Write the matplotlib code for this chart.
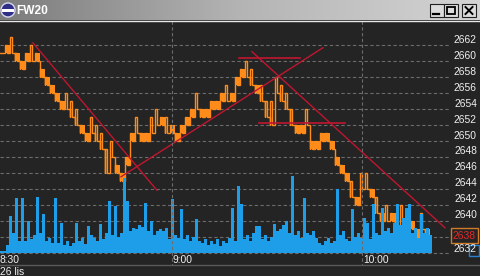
import numpy as np
import matplotlib
matplotlib.use("Agg")
import matplotlib.pyplot as plt
from matplotlib.patches import Rectangle, Circle
from matplotlib.lines import Line2D
from matplotlib.transforms import blended_transform_factory
from matplotlib.colors import LinearSegmentedColormap

plt.rcParams['font.family'] = ['Liberation Sans', 'DejaVu Sans']

# ---------------- data ----------------
title = "FW20"
date_label = "26 lis"
# price range per 5-tick segment
price_lo = [2661, 2661, 2661, 2660, 2659, 2660, 2660, 2660, 2658, 2657,
            2656, 2655, 2654, 2654, 2653, 2652, 2651, 2650, 2651, 2650,
            2649, 2646, 2648, 2646, 2645, 2647, 2650, 2651, 2650, 2650,
            2651, 2652, 2652, 2651, 2651, 2650, 2651, 2652, 2653, 2654,
            2653, 2653, 2654, 2654, 2655, 2655, 2655, 2657, 2658, 2658,
            2657, 2656, 2655, 2653, 2652, 2656, 2655, 2654, 2652, 2651,
            2651, 2652, 2649, 2649, 2650, 2650, 2649, 2647, 2646, 2645,
            2643, 2642, 2644, 2644, 2643, 2641, 2640, 2640, 2640, 2639,
            2640, 2639, 2639, 2638, 2639, 2638]
price_hi = [2661, 2662, 2663, 2661, 2660, 2661, 2662, 2661, 2659, 2658,
            2657, 2656, 2655, 2656, 2655, 2654, 2652, 2651, 2653, 2652,
            2651, 2649, 2650, 2647, 2646, 2648, 2651, 2653, 2651, 2651,
            2653, 2654, 2653, 2653, 2652, 2651, 2652, 2653, 2654, 2656,
            2654, 2654, 2655, 2655, 2656, 2657, 2656, 2658, 2659, 2660,
            2659, 2657, 2657, 2655, 2655, 2658, 2657, 2656, 2654, 2652,
            2652, 2654, 2650, 2650, 2651, 2651, 2650, 2648, 2647, 2646,
            2645, 2643, 2646, 2646, 2644, 2643, 2641, 2642, 2641, 2641,
            2642, 2640, 2640, 2639, 2641, 2639]
# volume per 3-tick slot
volume = [2, 2, 8, 37, 20, 55, 12, 55, 12, 32, 14, 18, 56, 20, 39, 12, 15, 10,
          55, 10, 30, 8, 12, 7, 10, 30, 12, 15, 9, 27, 18, 15, 12, 29, 14, 20,
          52, 18, 47, 16, 20, 75, 52, 22, 25, 24, 28, 26, 50, 22, 32, 18, 22, 24,
          22, 25, 14, 54, 18, 15, 44, 14, 18, 12, 16, 34, 12, 10, 14, 8, 12, 9,
          14, 7, 12, 10, 15, 45, 12, 67, 49, 14, 18, 12, 20, 27, 27, 14, 18, 12,
          16, 29, 22, 24, 28, 32, 20, 77, 18, 22, 15, 55, 20, 18, 22, 15, 10, 8,
          12, 15, 10, 12, 64, 18, 22, 14, 12, 44, 16, 20, 15, 35, 30, 14, 49, 20,
          18, 45, 22, 25, 20, 30, 49, 28, 35, 45, 49, 20, 25, 15, 39, 20, 25, 18]
price_ticks = list(range(2640, 2663, 2))
bottom_tick = 2636
bottom_label = "2632"
last_price = "2638"
last_price_level = 2638
last_volume = "2"
time_labels = ["8:30", "9:00", "10:00"]
time_pos = [-2, 172, 362]
trend_x = [[33, 157], [121, 323], [252, 445]]
trend_y = [[2662.3, 2643.8], [2645.5, 2661.7], [2661.2, 2639.1]]
level_x = [[239, 300], [259, 345]]
level_y = [2660.35, 2652.3]

# ---------------- style ----------------
W, H = 481, 276
BG = "#242424"
ORANGE = "#ff8c1a"
BLUE = "#1e9ee8"
RED = "#c01630"
GRID = "#6c6c6c"
TXT = "#f0f0f0"
DASH = (0, (3, 2.2))
SEG = 5
VSEG = 3
FS = 7.4


def fy(y):
    return 1 - y / H


fig = plt.figure(figsize=(W / 100, H / 100), dpi=100, facecolor=BG)

rect = [0, fy(252.5), 1, (252.5 - 21) / H]
ax = fig.add_axes(rect)
ax.set_xlim(0, W)
ax.set_ylim(2636, 2665.05)
ax.axis("off")

# horizontal grid
for p in [bottom_tick] + price_ticks + [last_price_level]:
    ax.plot([0, 450], [p, p], color=GRID, lw=0.8, ls=DASH, zorder=1, clip_on=False)

# price: zig-zag tick path, solid blocks for one-point ranges
n = len(price_lo)
px, py = [], []
for i in range(n):
    x0 = i * SEG
    lo, hi = price_lo[i], price_hi[i]
    if hi - lo == 1:
        ax.add_patch(Rectangle((x0, lo), SEG, hi - lo, facecolor=ORANGE,
                               lw=0, zorder=3))
    px += [x0, x0, x0 + 2, x0 + 2, x0 + SEG]
    py += [lo, hi, hi, lo, lo]
ax.plot(px, py, color=ORANGE, lw=1, zorder=3, solid_joinstyle="miter")

# volume (on top of price)
axv = fig.add_axes(rect)
axv.set_xlim(0, W)
axv.set_ylim(0, 252.5 - 21)
axv.axis("off")
axv.bar(np.arange(len(volume)) * VSEG, volume, width=VSEG, align="edge",
        color=BLUE, lw=0)

# trend lines
axl = fig.add_axes(rect)
axl.set_xlim(0, W)
axl.set_ylim(2636, 2665.05)
axl.axis("off")
for tx, ty in zip(trend_x, trend_y):
    axl.plot(tx, ty, color=RED, lw=1)
for lx, ly in zip(level_x, level_y):
    axl.plot(lx, [ly, ly], color=RED, lw=1.2)

# vertical time grid + labels
tr_x = blended_transform_factory(ax.transData, fig.transFigure)
for xp, lab in zip(time_pos, time_labels):
    if xp > 0:
        fig.add_artist(Line2D([xp, xp], [fy(21), fy(265)], transform=tr_x,
                              color=GRID, lw=0.8, ls=DASH))
    fig.text(xp + 1, fy(263), lab, transform=tr_x, ha="left", va="baseline",
             color=TXT, fontsize=FS)

# right price labels
tr_y = blended_transform_factory(fig.transFigure, ax.transData)
for p in price_ticks:
    fig.text(477 / W, p + 0.3, str(p), transform=tr_y, ha="right",
             va="baseline", color=TXT, fontsize=FS)
fig.text(477 / W, fy(252), bottom_label, ha="right", va="baseline",
         color=TXT, fontsize=FS)

# last price box
fig.add_artist(Rectangle((451 / W, fy(243)), 27 / W, 15 / H,
                         transform=fig.transFigure, facecolor=BG,
                         edgecolor="#d07a28", lw=1))
fig.text(464.5 / W, fy(235.8), last_price, ha="center", va="center",
         color="#e82828", fontsize=FS)
# last volume box
fig.add_artist(Rectangle((469 / W, fy(256)), 10 / W, 11 / H,
                         transform=fig.transFigure, facecolor="none",
                         edgecolor="#2a80d0", lw=1))

# bottom separator + date
fig.add_artist(Line2D([0, 1], [fy(265), fy(265)], color="#5a5a5a", lw=1))
fig.text(0, fy(275), date_label, ha="left", va="baseline", color=TXT,
         fontsize=FS)

# ---------------- title bar ----------------
tb = fig.add_axes([0, fy(20), 1, 20 / H])
tb.axis("off")
grad = np.linspace(0, 1, 256)[None, :]
cm = LinearSegmentedColormap.from_list("tb", ["#7c7c7c", "#b4b4b4", "#d4d4d4"])
tb.imshow(grad, aspect="auto", cmap=cm, extent=[0, W, 20, 0])
tb.set_xlim(0, W)
tb.set_ylim(20, 0)
tb.add_patch(Circle((8, 10), 7, facecolor="#2e2e86", edgecolor="#d8d8f0", lw=1))
tb.add_patch(Rectangle((2, 8.5), 12, 3, facecolor="white", lw=0))
tb.text(16, 10.5, title, ha="left", va="center", color="white",
        fontsize=8.6, fontweight="bold")
for bx in [430, 444, 462]:
    tb.add_patch(Rectangle((bx, 4), 14, 13, facecolor="#dcdcdc",
                           edgecolor="#202020", lw=0.8))
tb.plot([433, 439], [14, 14], color="black", lw=1.6)
tb.add_patch(Rectangle((447, 7), 8, 7, facecolor="none", edgecolor="black", lw=1.3))
tb.plot([465.5, 472.5], [7, 14], color="black", lw=1.4)
tb.plot([465.5, 472.5], [14, 7], color="black", lw=1.4)
fig.add_artist(Line2D([0, 1], [fy(20.5), fy(20.5)], color="#e8e8e8", lw=1))

fig.savefig("out.png", dpi=100, facecolor=BG)
